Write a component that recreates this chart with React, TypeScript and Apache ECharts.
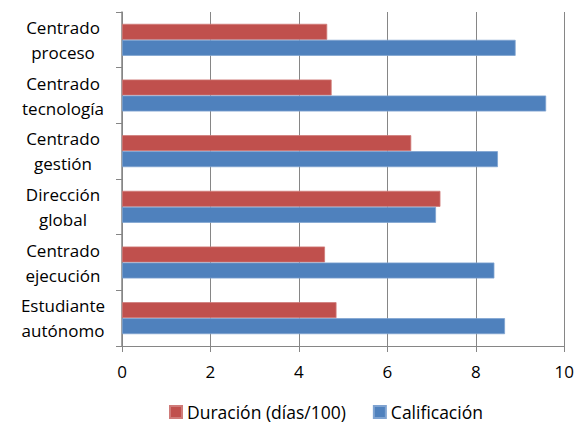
import React, { useEffect, useRef } from "react";
import * as echarts from "echarts";

const categories = [
  "Centrado\nproceso",
  "Centrado\ntecnología",
  "Centrado\ngestión",
  "Dirección\nglobal",
  "Centrado\nejecución",
  "Estudiante\nautónomo",
];
const duracion = [4.64, 4.74, 6.54, 7.2, 4.59, 4.85];
const calificacion = [8.9, 9.59, 8.5, 7.1, 8.42, 8.66];
const seriesNames = ["Duración (días/100)", "Calificación"];
const xTicks = { min: 0, max: 10, interval: 2 };

const RED = "#C0504D";
const BLUE = "#4F81BD";
const GRID = "#868686";
const FONT = "Open Sans";

export default function App() {
  const ref = useRef<HTMLDivElement>(null);
  useEffect(() => {
    if (!ref.current) return;
    const chart = echarts.init(ref.current, null, { renderer: "svg" });
    chart.setOption({
      animation: false,
      backgroundColor: "#ffffff",
      textStyle: { fontFamily: FONT },
      grid: { left: 122, right: 12, top: 12, bottom: 78, containLabel: false },
      legend: {
        data: seriesNames,
        top: 402,
        left: 169,
        padding: 0,
        itemWidth: 12,
        itemHeight: 12,
        itemGap: 27,
        icon: "rect",
        textStyle: { fontFamily: FONT, fontSize: 17.5, lineHeight: 20, color: "#000" },
      },
      xAxis: {
        type: "value",
        min: xTicks.min,
        max: xTicks.max,
        interval: xTicks.interval,
        axisLine: { show: true, lineStyle: { color: GRID } },
        axisTick: { show: true, length: 6, lineStyle: { color: GRID } },
        splitLine: { show: true, lineStyle: { color: GRID, width: 1 } },
        axisLabel: { fontFamily: FONT, fontSize: 17, color: "#000", margin: 17 },
      },
      yAxis: {
        type: "category",
        inverse: true,
        data: categories,
        axisLine: { show: true, lineStyle: { color: GRID, width: 1.5 } },
        axisTick: { show: true, length: 6, lineStyle: { color: GRID } },
        axisLabel: {
          fontFamily: FONT,
          fontSize: 17,
          lineHeight: 25,
          color: "#000",
          align: "center",
          margin: 59,
        },
      },
      series: [
        {
          name: seriesNames[0],
          type: "bar",
          data: duracion,
          itemStyle: { color: RED, borderColor: "#CF7B79", borderWidth: 0.8 },
          barWidth: 16,
          barGap: "0%",
        },
        {
          name: seriesNames[1],
          type: "bar",
          data: calificacion,
          itemStyle: { color: BLUE, borderColor: "#7FA3D1", borderWidth: 0.8 },
          barWidth: 16,
          barGap: "0%",
        },
      ],
    });
    return () => chart.dispose();
  }, []);
  return (
    <div
      ref={ref}
      style={{ position: "absolute", left: 0, top: 0, width: 577, height: 424 }}
    />
  );
}
